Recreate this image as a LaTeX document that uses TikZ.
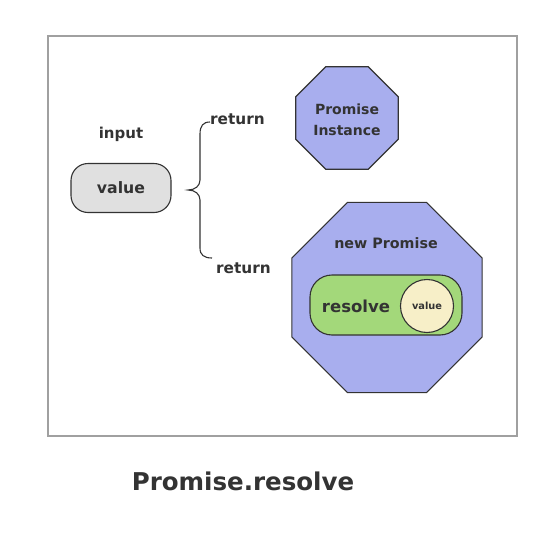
\documentclass[tikz,border=0pt]{standalone}
\usepackage{fontspec}
\setmainfont{DejaVu Sans}
\usetikzlibrary{shapes.geometric}
\definecolor{txt}{HTML}{333333}
\definecolor{octfill}{HTML}{A8AEEE}
\definecolor{greenfill}{HTML}{A3D87A}
\definecolor{circfill}{HTML}{F7EFC8}
\definecolor{grayfill}{HTML}{E0E0E0}
\definecolor{frame}{HTML}{A0A0A0}
\tikzset{
  lbl/.style={text=txt, inner sep=0pt, font=\fontsize{15}{17}\selectfont\bfseries},
  octa/.style={regular polygon, regular polygon sides=8, draw=txt, fill=octfill, line width=1.1pt, inner sep=0pt},
}
\begin{document}
\begin{tikzpicture}[x=1pt,y=-1pt]
\useasboundingbox (0,0) rectangle (558,536);
\node[draw=frame, line width=1.8pt, minimum width=469pt, minimum height=400pt, inner sep=0pt] (frameBox) at (282.5,236) {};
% input side
\node[lbl] (input) at (121,134) {input};
\node[rounded corners=17pt, draw=txt, line width=1.1pt, fill=grayfill, minimum width=100pt, minimum height=49pt, lbl, font=\fontsize{15.7}{18}\selectfont\bfseries] (value) at (121,188) {value};
% brace
\coordinate (tip) at (188,190);
\coordinate (topEnd) at (210,122);
\coordinate (botEnd) at (212,258);
\draw[txt, line width=1.1pt] (topEnd) .. controls (203,122) and (200,126) .. (200,134) -- (200,180)
  .. controls (200,186) and (195,190) .. (tip)
  .. controls (195,190) and (200,194) .. (200,200) -- (200,248)
  .. controls (200,255) and (204,258) .. (botEnd);
\node[lbl, anchor=west, font=\fontsize{15.3}{17}\selectfont\bfseries] (ret1) at (210,119) {return};
\node[lbl, anchor=west, font=\fontsize{15.3}{17}\selectfont\bfseries] (ret2) at (216,268) {return};
% small octagon
\node[octa, minimum size=111pt] (inst) at (347,118) {};
\node[lbl, align=center, font=\fontsize{14}{21}\selectfont\bfseries] (instText) at (347,120) {Promise\\Instance};
% large octagon
\node[octa, minimum size=206pt] (newp) at (387,297.5) {};
\node[lbl, font=\fontsize{14.3}{16}\selectfont\bfseries] (newText) at (386,243) {new Promise};
\node[rounded corners=22pt, draw=txt, line width=1.1pt, fill=greenfill, minimum width=152pt, minimum height=60pt, inner sep=0pt] (res) at (386,305) {};
\node[lbl, font=\fontsize{16.5}{19}\selectfont\bfseries] (resText) at (356,306) {resolve};
\node[circle, draw=txt, line width=1.1pt, fill=circfill, minimum size=53pt, inner sep=0pt, text=txt, font=\fontsize{9.8}{11}\selectfont\bfseries] (val2) at (427,306) {value};
% title
\node[lbl, font=\fontsize{24.5}{28}\selectfont\bfseries] (title) at (243,481) {Promise.resolve};
\end{tikzpicture}
\end{document}
